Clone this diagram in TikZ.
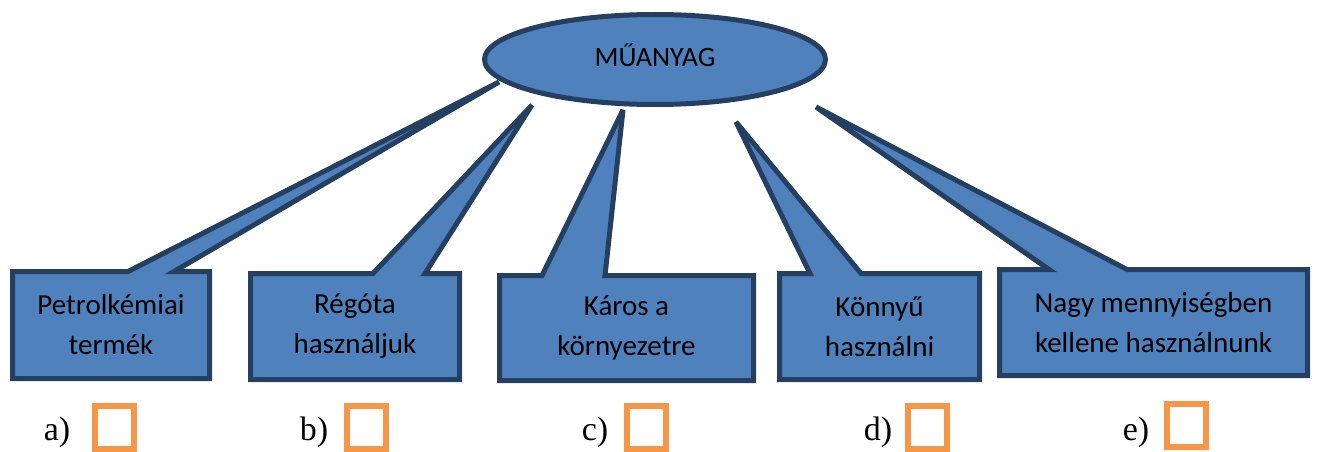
\documentclass[tikz,border=0pt]{standalone}
\usepackage{fontspec}
\setmainfont{Carlito}
\newfontfamily\labelfont{Liberation Serif}
\usetikzlibrary{shapes.geometric,positioning,backgrounds}
\definecolor{shapeblue}{HTML}{4F81BD}
\definecolor{shapeline}{HTML}{243F60}
\definecolor{tickorange}{HTML}{F79646}
\begin{document}
\begin{tikzpicture}[x=1pt,y=-1pt,
	callout/.style={fill=shapeblue,draw=shapeline,line width=5pt,miter limit=4},
	boxtext/.style={align=center,font=\fontsize{29}{40}\selectfont,inner sep=0pt,outer sep=0pt},
	tickbox/.style={draw=tickorange,line width=6pt,minimum width=39pt,minimum height=43pt,inner sep=0pt},
	letter/.style={font=\labelfont\fontsize{34}{38}\selectfont,inner sep=0pt}]
	\useasboundingbox (0,0) rectangle (1319,452);
	% the oval at the top
	\node[ellipse,fill=shapeblue,draw=shapeline,line width=5pt,minimum width=341pt,minimum height=90pt,inner sep=0pt,font=\fontsize{28}{34}\selectfont] (muanyag) at (655,59.5) {\raisebox{9pt}{MŰANYAG}};
	\coordinate (tipa) at (499,82);
	\coordinate (tipb) at (532,105);
	\coordinate (tipc) at (623,110);
	\coordinate (tipd) at (736,122);
	\coordinate (tipe) at (816,107);
	% the five answers
	\node[boxtext,minimum width=197pt,minimum height=107pt] (petrol) at (111,325) {Petrolkémiai\\termék};
	\node[boxtext,minimum width=209pt,minimum height=106pt] (regota) at (355,326.5) {Régóta\\használjuk};
	\node[boxtext,minimum width=254pt,minimum height=105pt] (karos) at (626.5,328) {Káros a\\környezetre};
	\node[boxtext,minimum width=200pt,minimum height=106pt] (konnyu) at (879.5,326.5) {Könnyű\\használni};
	\node[boxtext,minimum width=308pt,minimum height=106pt] (nagy) at (1153.5,322.5) {Nagy mennyiségben\\kellene használnunk};
	\begin{pgfonlayer}{background}
	\draw[callout] (petrol.north west) -- (128,0 |- petrol.north) -- (tipa) -- (174,0 |- petrol.north) -- (petrol.north east) -- (petrol.south east) -- (petrol.south west) -- cycle;
	\draw[callout] (regota.north west) -- (373,0 |- regota.north) -- (tipb) -- (425,0 |- regota.north) -- (regota.north east) -- (regota.south east) -- (regota.south west) -- cycle;
	\draw[callout] (karos.north west) -- (542,0 |- karos.north) -- (tipc) -- (605,0 |- karos.north) -- (karos.north east) -- (karos.south east) -- (karos.south west) -- cycle;
	\draw[callout] (konnyu.north west) -- (810,0 |- konnyu.north) -- (tipd) -- (861,0 |- konnyu.north) -- (konnyu.north east) -- (konnyu.south east) -- (konnyu.south west) -- cycle;
	\draw[callout] (nagy.north west) -- (1049,0 |- nagy.north) -- (tipe) -- (1127,0 |- nagy.north) -- (nagy.north east) -- (nagy.south east) -- (nagy.south west) -- cycle;
	\end{pgfonlayer}
	% letters and tick boxes
	\node[tickbox] (ticka) at (114.5,427.5) {};
	\node[tickbox] (tickb) at (366,427.5) {};
	\node[tickbox] (tickc) at (646,427.5) {};
	\node[tickbox] (tickd) at (927,427.5) {};
	\node[tickbox] (ticke) at (1186,425.5) {};
	\node[letter] (lettera) at (57,432) {a)};
	\node[letter] (letterb) at (314,432) {b)};
	\node[letter] (letterc) at (595,432) {c)};
	\node[letter] (letterd) at (878,432) {d)};
	\node[letter] (lettere) at (1136,432) {e)};
\end{tikzpicture}
\end{document}
